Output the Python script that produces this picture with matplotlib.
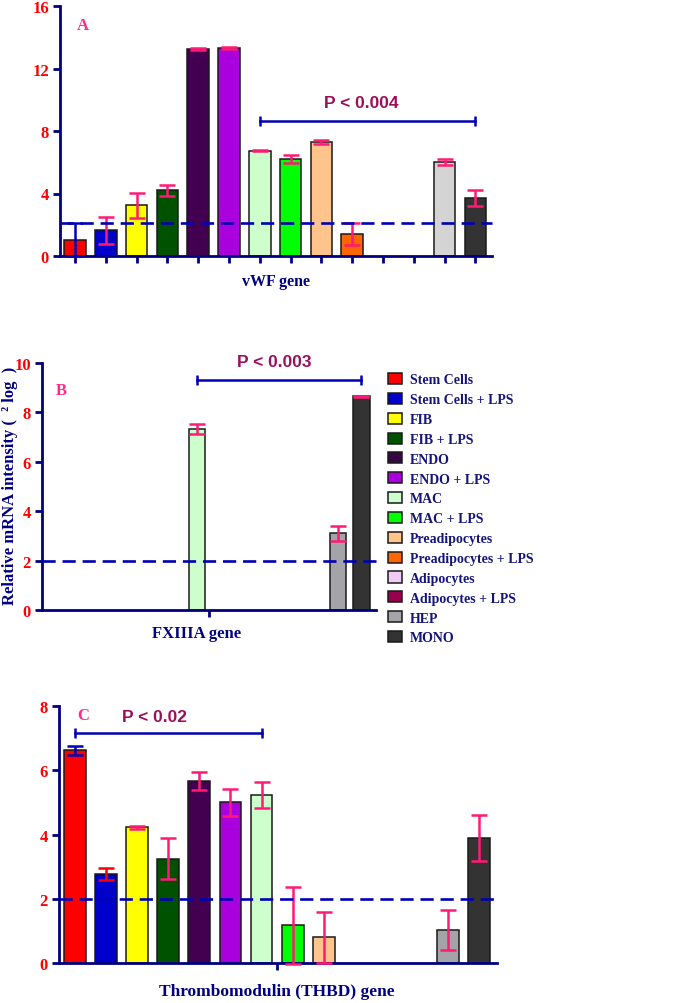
import numpy as np
import matplotlib
matplotlib.use("Agg")
import matplotlib.pyplot as plt
from matplotlib.patches import Patch

#---------DATA----------
cells = ["Stem Cells", "Stem Cells + LPS", "FIB", "FIB + LPS", "ENDO", "ENDO + LPS",
         "MAC", "MAC + LPS", "Preadipocytes", "Preadipocytes + LPS", "Adipocytes",
         "Adipocytes + LPS", "HEP", "MONO"]
colors = ["#ff0000", "#0000cc", "#ffff00", "#005200", "#440050", "#aa00dd",
          "#ccffcc", "#00ff00", "#ffc48c", "#ff6600", "#f0ccf5", "#99004d",
          "#a3a3a8", "#333333"]

vwf = [1.05, 1.65, 3.25, 4.2, 13.25, 13.3, 6.75, 6.2, 7.3, 1.4, 0, 0, 6.0, 3.7]
vwf_err = [1.05, 0.85, 0.8, 0.35, 0.05, 0.07, 0.03, 0.25, 0.1, 0.7, 0, 0, 0.2, 0.5]

fxiiia = [0, 0, 0, 0, 0, 0, 7.33, 0, 0, 0, 0, 0, 3.1, 8.65]
fxiiia_err = [0, 0, 0, 0, 0, 0, 0.22, 0, 0, 0, 0, 0, 0.3, 0.02]

thbd = [6.62, 2.77, 4.22, 3.25, 5.67, 5.0, 5.22, 1.18, 0.8, 0, 0, 0, 1.02, 3.9]
thbd_err = [0.14, 0.18, 0.06, 0.65, 0.28, 0.42, 0.41, 1.2, 0.8, 0, 0, 0, 0.63, 0.71]

NAVY = "#000080"
PINK = "#ff1a75"
BLUE = "#0000b4"
PTXT = "#9c0f5a"
SERIF = ["Liberation Serif", "DejaVu Serif"]
NARROW = ["Liberation Sans Narrow", "Liberation Sans", "DejaVu Sans"]

W, H = 692, 1004
fig = plt.figure(figsize=(W / 100, H / 100), dpi=100)


def px_axes(left, right, top, bottom):
    return fig.add_axes([left / W, 1 - bottom / H, (right - left) / W, (bottom - top) / H])


def style(ax, ymax, step, xlim, xticks):
    ax.set_xlim(*xlim)
    ax.set_ylim(0, ymax)
    for s in ["top", "right"]:
        ax.spines[s].set_visible(False)
    for s in ["left", "bottom"]:
        ax.spines[s].set_color(NAVY)
        ax.spines[s].set_linewidth(2.0)
    ax.set_yticks(np.arange(0, ymax + 0.1, step))
    ax.set_yticklabels([f"{v:g}" for v in np.arange(0, ymax + 0.1, step)])
    ax.set_xticks(xticks)
    ax.set_xticklabels([])
    ax.tick_params(axis="both", color=NAVY, width=2.0, length=5, direction="out")
    ax.tick_params(axis="y", labelcolor="#ff0000", pad=3)
    for lbl in ax.get_yticklabels():
        lbl.set_fontfamily(SERIF)
        lbl.set_fontweight("bold")
        lbl.set_fontsize(12)


def bars(ax, vals, errs, ecols, hep_col=None):
    x = np.arange(len(vals))
    v = np.array(vals, float)
    e = np.array(errs, float)
    m = v > 0
    cols = list(colors)
    if hep_col:
        cols[12] = hep_col
    ax.bar(x[m], v[m], width=0.7, color=np.array(cols)[m], edgecolor="#1a1a1a",
           linewidth=1.1, zorder=2)
    for i in x[m]:
        ax.errorbar(i, v[i], yerr=e[i], fmt="none", ecolor=ecols[i], elinewidth=1.8,
                    capsize=5.5, capthick=1.8, zorder=3, clip_on=False)


def bracket(ax, x0, x1, y, h, text, tx, ty):
    ax.plot([x0, x1], [y, y], color=BLUE, lw=1.8, clip_on=False, zorder=4)
    ax.vlines([x0, x1], y - h, y + h, color=BLUE, lw=1.8, clip_on=False, zorder=4)
    ax.text(tx, ty, text, color=PTXT, fontsize=12.5, fontweight="bold", family=NARROW,
            ha="center", va="center", clip_on=False)


def dashed(ax, y):
    ax.axhline(y, color="#0000b4", lw=1.9, ls=(0, (5, 2.6)), zorder=4, clip_on=False)


def letter(ax, x, y, s):
    ax.text(x, y, s, color="#ff2a85", fontsize=12, fontweight="bold", family=SERIF,
            ha="left", va="center")


def xlab(x, y, s, size=12):
    fig.text(x / W, 1 - y / H, s, color=NAVY, fontsize=size, fontweight="bold",
             family=SERIF, ha="center", va="center")


#---------PANEL A----------
axA = px_axes(60, 492, 7, 257)
style(axA, 16, 4, (-0.487, 13.54), np.arange(14))
ecA = [BLUE] + [PINK] * 13
bars(axA, vwf, vwf_err, ecA, hep_col="#d4d4d4")
dashed(axA, 2.1)
bracket(axA, 6, 13, 8.65, 0.32, "P < 0.004", 9.29, 9.8)
letter(axA, 0.05, 14.8, "A")
xlab(276, 282, "vWF gene", 11.5)

#---------PANEL B----------
axB = px_axes(42, 376, 364, 611)
style(axB, 10, 2, (-0.6, 13.62), [6.5])
bars(axB, fxiiia, fxiiia_err, [PINK] * 14)
dashed(axB, 2.0)
bracket(axB, 6, 13, 9.3, 0.2, "P < 0.003", 9.28, 10.07)
letter(axB, 0.0, 8.9, "B")
xlab(197, 634, "FXIIIA gene")
fig.text(10 / W, 1 - 486 / H, "Relative mRNA intensity (  \u00b2 log  )", rotation=90,
         color=NAVY, fontsize=12, fontweight="bold", family=SERIF, ha="center", va="center")

#---------PANEL C----------
axC = px_axes(59, 497, 707, 964)
style(axC, 8, 2, (-0.51, 13.57), [6.5])
ecC = [BLUE, "#ff0000"] + [PINK] * 12
bars(axC, thbd, thbd_err, ecC)
dashed(axC, 2.0)
bracket(axC, 0, 6, 7.15, 0.16, "P < 0.02", 2.57, 7.67)
letter(axC, 0.08, 7.72, "C")
xlab(277, 992, "Thrombomodulin (THBD) gene", 12.5)

#---------LEGEND----------
handles = []
for name, c in zip(cells, colors):
    if name == "ENDO":
        handles.append(Patch(facecolor=c, edgecolor="#1a1a1a", hatch="/////", linewidth=1.1, label=name))
    else:
        handles.append(Patch(facecolor=c, edgecolor="#1a1a1a", linewidth=1.1, label=name))
leg = fig.legend(handles=handles, loc="upper left", bbox_to_anchor=(388 / W, 1 - 374 / H),
                 frameon=False, handlelength=1.0, handleheight=0.85, handletextpad=0.6,
                 labelspacing=0.468, borderpad=0, borderaxespad=0,
                 prop={"family": SERIF, "weight": "bold", "size": 10})
for t in leg.get_texts():
    t.set_color("#14147a")

fig.savefig("out.png", dpi=100)
